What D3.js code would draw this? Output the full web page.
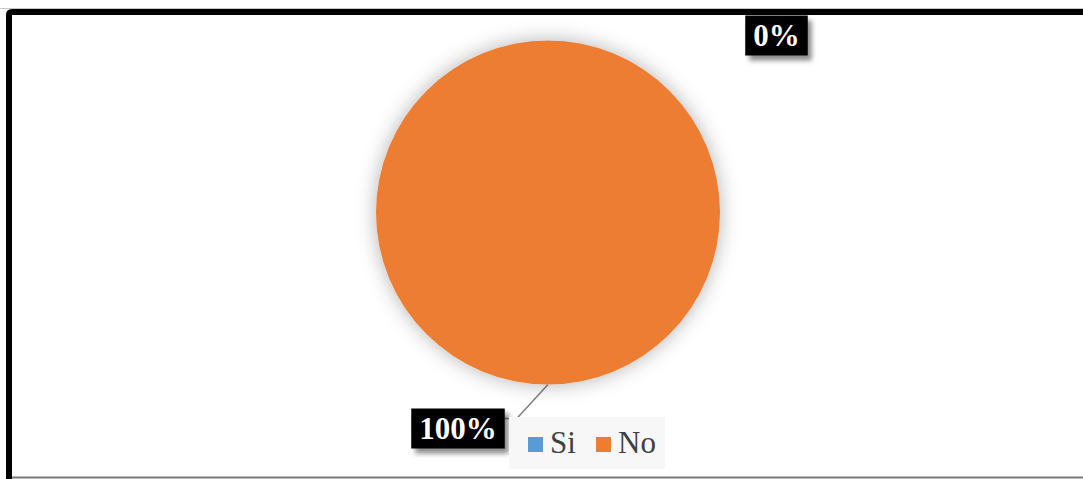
<!DOCTYPE html>
<html>
<head>
<meta charset="utf-8">
<script src="https://cdn.jsdelivr.net/npm/d3@7"></script>
<style>
  html, body { margin: 0; padding: 0; background: #fff; }
  svg { display: block; }
</style>
</head>
<body>
<svg id="chart" width="1083" height="479"></svg>
<script>
// Survey answers: share of responses per option
const categories = ["Si", "No"];
const values = [0, 100];
const colors = ["#5B9BD5", "#ED7D31"];

const W = 1083, H = 479;
const cx = 548, cy = 212.5, R = 172;

const svg = d3.select("#chart");
const defs = svg.append("defs");

// soft halo around the pie
const glow = defs.append("filter").attr("id", "pieGlow")
  .attr("x", "-30%").attr("y", "-30%").attr("width", "160%").attr("height", "160%");
glow.append("feGaussianBlur").attr("in", "SourceAlpha").attr("stdDeviation", 10).attr("result", "b");
glow.append("feFlood").attr("flood-color", "#000").attr("flood-opacity", 0.3).attr("result", "c");
glow.append("feComposite").attr("in", "c").attr("in2", "b").attr("operator", "in").attr("result", "s");
const gm = glow.append("feMerge");
gm.append("feMergeNode").attr("in", "s");
gm.append("feMergeNode").attr("in", "SourceGraphic");

// drop shadow under the data labels
const lab = defs.append("filter").attr("id", "labShadow")
  .attr("x", "-30%").attr("y", "-30%").attr("width", "160%").attr("height", "180%");
lab.append("feGaussianBlur").attr("in", "SourceAlpha").attr("stdDeviation", 2.5).attr("result", "b");
lab.append("feOffset").attr("in", "b").attr("dx", 4).attr("dy", 5).attr("result", "o");
lab.append("feFlood").attr("flood-color", "#000").attr("flood-opacity", 0.45).attr("result", "c");
lab.append("feComposite").attr("in", "c").attr("in2", "o").attr("operator", "in").attr("result", "s");
const lm = lab.append("feMerge");
lm.append("feMergeNode").attr("in", "s");
lm.append("feMergeNode").attr("in", "SourceGraphic");

// frame
svg.append("line").attr("x1", 0).attr("x2", W).attr("y1", 8.5).attr("y2", 8.5)
  .attr("stroke", "#c8c8c8").attr("stroke-width", 1);
svg.append("line").attr("x1", 12).attr("x2", W).attr("y1", 477.5).attr("y2", 477.5)
  .attr("stroke", "#7a7a7a").attr("stroke-width", 2);
svg.append("path")
  .attr("d", `M9,${H} L9,15 Q9,12 12,12 L${W},12`)
  .attr("fill", "none").attr("stroke", "#000").attr("stroke-width", 6);

const color = d3.scaleOrdinal().domain(categories).range(colors);
const data = categories.map((c, i) => ({ cat: c, value: values[i] }));
const total = d3.sum(values);

const pie = d3.pie().value(d => d.value).sort(null).startAngle(0).endAngle(2 * Math.PI);
const arcs = pie(data);
const arc = d3.arc().innerRadius(0).outerRadius(R);

const g = svg.append("g").attr("transform", `translate(${cx},${cy})`).attr("filter", "url(#pieGlow)");
g.selectAll("path").data(arcs.filter(a => a.endAngle > a.startAngle)).join("path")
  .attr("d", arc)
  .attr("fill", d => color(d.data.cat));

// data labels: box offsets from the slice's edge point
const labelOffsets = { Si: { dx: 228.5, dy: -5, leader: false }, No: { dx: -90, dy: 44, leader: true } };
const fmt = d3.format(".0%");

arcs.forEach(a => {
  const mid = (a.startAngle + a.endAngle) / 2;
  const ex = cx + R * Math.sin(mid), ey = cy - R * Math.cos(mid);
  const o = labelOffsets[a.data.cat];
  const txt = fmt(a.data.value / total);
  const lx = ex + o.dx, ly = ey + o.dy;

  const lg = svg.append("g");
  const t = lg.append("text")
    .attr("x", lx).attr("y", ly)
    .attr("text-anchor", "middle").attr("dominant-baseline", "central")
    .attr("font-family", "'Liberation Serif', 'Times New Roman', serif")
    .attr("font-weight", "bold").attr("font-size", 31)
    .attr("fill", "#fff").text(txt);
  const bb = t.node().getBBox();
  const bw = bb.width + 16, bh = 40;
  lg.insert("rect", "text")
    .attr("x", lx - bw / 2).attr("y", ly - bh / 2)
    .attr("width", bw).attr("height", bh)
    .attr("fill", "#000").attr("filter", "url(#labShadow)");

  if (o.leader) {
    const bx = lx + bw / 2, by = ly - bh / 2 + 10;
    svg.insert("polyline", "g")
      .attr("points", `${bx},${by} ${bx + 12},${by} ${ex},${ey}`)
      .attr("fill", "none").attr("stroke", "#7f7f7f").attr("stroke-width", 1.5);
  }
});

// legend
const leg = svg.append("g").attr("transform", "translate(509,417)");
leg.append("rect").attr("width", 156).attr("height", 52).attr("fill", "#f7f7f7");
const itemX = [19, 87];
categories.forEach((c, i) => {
  leg.append("rect").attr("x", itemX[i]).attr("y", 20).attr("width", 15).attr("height", 15)
    .attr("fill", color(c));
  leg.append("text").attr("x", itemX[i] + 22).attr("y", 35.5)
    .attr("font-family", "'Liberation Serif', 'Times New Roman', serif")
    .attr("font-size", 31).attr("fill", "#404040").text(c);
});
</script>
</body>
</html>
